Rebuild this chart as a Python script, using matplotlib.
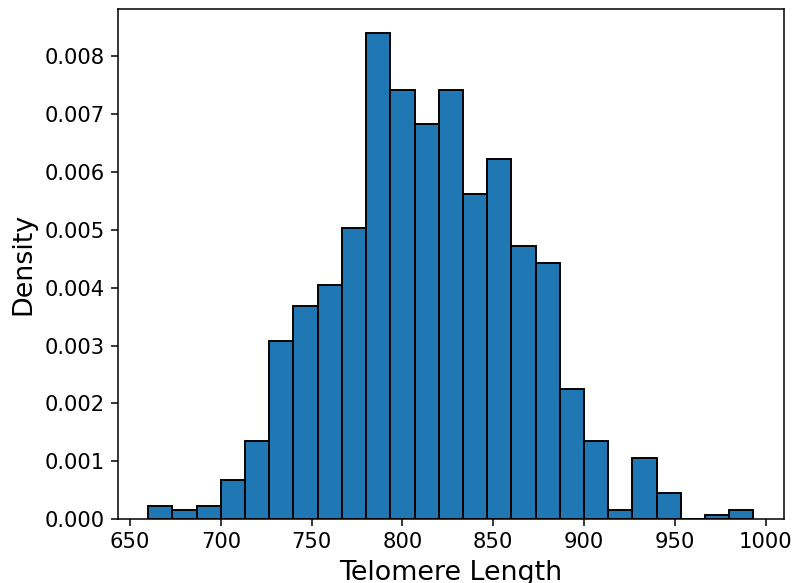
import numpy as np
import matplotlib
matplotlib.use('Agg')
import matplotlib.pyplot as plt

# histogram: 25 equal bins from 660 to ~993
BIN_START = 660.0
BIN_END = 993.3
counts = [3, 2, 3, 9, 18, 41, 49, 54, 67, 112, 99, 91, 99,
          75, 83, 63, 59, 30, 18, 2, 14, 6, 0, 1, 2]
x_ticks = [650, 700, 750, 800, 850, 900, 950, 1000]

edges = np.linspace(BIN_START, BIN_END, len(counts) + 1)
centers = (edges[:-1] + edges[1:]) / 2

# reference looks like a small figure rendered at high dpi
DPI = 138
fig = plt.figure(figsize=(794 / DPI, 583 / DPI), dpi=DPI)
ax = fig.add_axes([0.1486, 0.1098, 0.8384, 0.8748])

ax.hist(centers, bins=edges, weights=counts, density=True,
        color='#1f77b4', edgecolor='black', linewidth=1.0)

ax.set_xticks(x_ticks)
ax.tick_params(axis='both', labelsize=11)
ax.set_xlabel('Telomere Length', fontsize=14)
ax.set_ylabel('Density', fontsize=14)

fig.savefig('out.png', dpi=DPI)
